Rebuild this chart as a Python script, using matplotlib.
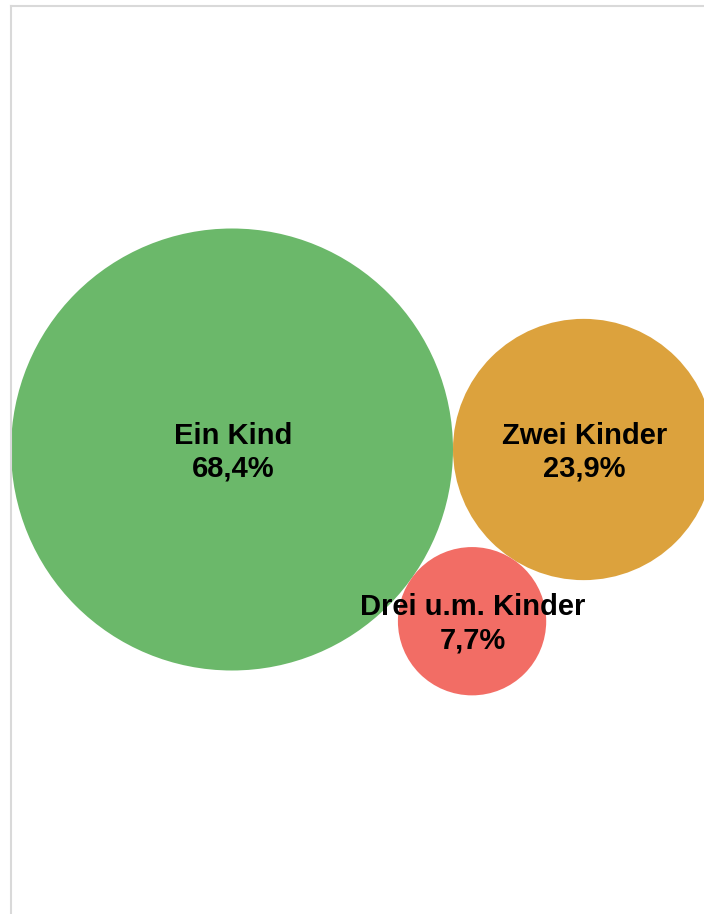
import numpy as np
import matplotlib.pyplot as plt
from matplotlib.patches import Circle

# data
labels = ["Ein Kind", "Zwei Kinder", "Drei u.m. Kinder"]
values = [68.4, 23.9, 7.7]
value_text = ["68,4%", "23,9%", "7,7%"]
colors = ["#6bb86a", "#dca23d", "#f26d65"]


def pack_three(radii):
    """Biggest circle at origin, 2nd touching to its right, 3rd touching both below."""
    r0, r1, r2 = radii
    base = r0 + r1
    d0, d1 = r0 + r2, r1 + r2
    x2 = (d0 ** 2 - d1 ** 2 + base ** 2) / (2 * base)
    y2 = np.sqrt(d0 ** 2 - x2 ** 2)
    return [(0.0, 0.0), (base, 0.0), (x2, y2)]


def main():
    fig = plt.figure(figsize=(7.04, 9.14), dpi=100)
    # axes frame: only top and left edge visible, like the original
    left, top = 10.5, 5.5
    ax = fig.add_axes([left / 704, 0, 1 - left / 704, 1 - top / 914])
    ax.set_xlim(left, 704)
    ax.set_ylim(914, top)
    ax.set_xticks([])
    ax.set_yticks([])
    for side in ["right", "bottom"]:
        ax.spines[side].set_visible(False)
    for side in ["top", "left"]:
        ax.spines[side].set_color("#d9d9d9")
        ax.spines[side].set_linewidth(1.5)

    # bubble area proportional to value
    scale = 221 / np.sqrt(max(values))
    radii = [scale * np.sqrt(v) for v in values]
    centers = pack_three(radii)
    cx0, cy0 = 232, 449.5

    for (x, y), r, col, lab, vt in zip(centers, radii, colors, labels, value_text):
        ax.add_patch(Circle((cx0 + x, cy0 + y), r, facecolor=col,
                            edgecolor="none", zorder=2))
        ax.text(cx0 + x + 1, cy0 + y + 2.5, lab + "\n" + vt, ha="center", va="center",
                fontsize=21, fontweight="bold", family="Liberation Sans",
                linespacing=1.22, zorder=5, clip_on=False)

    fig.savefig("out.png", dpi=100)


if __name__ == "__main__":
    main()
